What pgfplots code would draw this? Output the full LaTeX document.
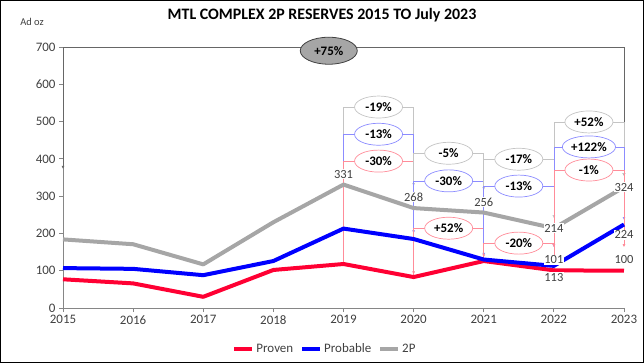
\documentclass[border=0pt]{standalone}
\usepackage{fontspec}
\setmainfont{Carlito}
\usepackage{pgfplots}
\pgfplotsset{compat=1.18}
\usetikzlibrary{shapes.geometric,arrows.meta}
\definecolor{cRed}{HTML}{FF0033}
\definecolor{cBlue}{HTML}{0000FF}
\definecolor{cGray}{HTML}{A6A6A6}
\definecolor{lRed}{HTML}{FF8C99}
\definecolor{lBlue}{HTML}{8C8CFF}
\definecolor{lGray}{HTML}{C4C4C4}
\definecolor{axGray}{HTML}{868686}
\definecolor{txt}{HTML}{404040}
% x1 x2 xmid ybar ystart yend colour label
\newcommand{\brk}[8]{%
  \draw[#7, line width=0.7bp, -{Latex[length=3bp,width=3bp]}] (axis cs:#1,#5) -- (axis cs:#1,#4) -- (axis cs:#2,#4) -- (axis cs:#2,#6);
  \node[ellipse, draw=#7, line width=0.7bp, fill=white, inner xsep=1bp, inner ysep=0.3bp, minimum width=48bp, minimum height=22bp, font=\fontsize{13}{14}\selectfont\bfseries, text=black] at (axis cs:#3,#4) {#8};
}
\newcommand{\vl}[3]{\node[fill=white, inner sep=0.8bp, text=txt, font=\fontsize{12.5}{14}\selectfont] at (axis cs:#1,#2) {#3};}
\begin{document}
\begin{tikzpicture}
\begin{axis}[
  name=a, at={(0,0)}, anchor=south west,
  scale only axis, width=561bp, height=261bp,
  xmin=2015, xmax=2023, ymin=0, ymax=700,
  axis x line*=bottom, axis y line*=left,
  axis line style={axGray, line width=0.8bp},
  xtick={2015,...,2023}, ytick={0,100,...,700},
  tick align=outside, major tick length=4bp,
  tick style={axGray, line width=0.8bp},
  xticklabel style={/pgf/number format/1000 sep={}},
  /pgf/number format/assume math mode=true,
  ticklabel style={font=\fontsize{13}{14}\selectfont, text=txt},
  clip=false,
  legend style={at={(0.467,-0.157)}, anchor=center, draw=none, fill=none, legend columns=3,
    font=\fontsize{13}{14}\selectfont, text=txt, inner sep=0pt,
    /tikz/every even column/.append style={column sep=5bp}},
  legend image code/.code={\draw[#1] (0bp,0bp) -- (18bp,0bp);},
]
% +75% bracket
\draw[black!60, line width=0.8bp, -{Latex[length=3bp,width=3bp]}] (axis cs:2019,700) -- (axis cs:2015,700) -- (axis cs:2015,373);
\draw[black!60, line width=0.8bp, -{Latex[length=3bp,width=3bp]}] (axis cs:2019,700) -- (axis cs:2023,700) -- (axis cs:2023,354);
\node[ellipse, draw=black!75, line width=0.8bp, fill=cGray, minimum width=57bp, minimum height=27bp, inner sep=0.5bp, font=\fontsize{13}{14}\selectfont\bfseries] at (axis cs:2018.79,690) {+75\%};
% 2019-2020
\brk{2019}{2020}{2019.5}{539}{331}{327}{lGray}{-19\%}
\brk{2019}{2020}{2019.5}{466}{213}{200}{lBlue}{-13\%}
\brk{2019}{2020}{2019.5}{394}{118}{90}{lRed}{-30\%}
% 2020-2021
\brk{2020}{2021}{2020.5}{415}{300}{316}{lGray}{-5\%}
\brk{2020}{2021}{2020.5}{341}{185}{140}{lBlue}{-30\%}
\brk{2020}{2021}{2020.5}{214}{83}{136}{lRed}{+52\%}
% 2021-2022
\brk{2021}{2022}{2021.5}{399}{256}{241}{lGray}{-17\%}
\brk{2021}{2022}{2021.5}{327}{130}{163}{lBlue}{-13\%}
\brk{2021}{2022}{2021.5}{174}{126}{163}{lRed}{-20\%}
% 2022-2023
\brk{2022}{2023}{2022.5}{499}{214}{354}{lGray}{+52\%}
\brk{2022}{2023}{2022.5}{432}{113}{236}{lBlue}{+122\%}
\brk{2022}{2023}{2022.5}{370}{101}{163}{lRed}{-1\%}
% series
\addplot[cRed, line width=4bp, line join=round] coordinates {(2015,77) (2016,66) (2017,30) (2018,102) (2019,118) (2020,83) (2021,126) (2022,101) (2023,100)};
\addlegendentry{Proven}
\addplot[cBlue, line width=4bp, line join=round] coordinates {(2015,107) (2016,105) (2017,88) (2018,126) (2019,213) (2020,185) (2021,130) (2022,113) (2023,224)};
\addlegendentry{Probable}
\addplot[cGray, line width=4bp, line join=round] coordinates {(2015,184) (2016,171) (2017,117) (2018,230) (2019,331) (2020,268) (2021,256) (2022,214) (2023,324)};
\addlegendentry{2P}
% value labels
\vl{2019}{359}{331}
\vl{2020}{298}{268}
\vl{2021}{284}{256}
\vl{2022}{214}{214}
\vl{2022}{129}{101}
\vl{2022}{83}{113}
\vl{2023}{324}{324}
\vl{2023}{196}{224}
\vl{2023}{129}{100}
\end{axis}
\node[font=\fontsize{16}{18}\selectfont\bfseries] at (259bp,293bp) {MTL COMPLEX 2P RESERVES 2015 TO July 2023};
\node[font=\fontsize{10.5}{12}\selectfont, text=txt] at (-31bp,286bp) {Ad oz};
\pgfresetboundingbox
\path (-63bp,-55bp) rectangle (581bp,308bp);
\draw[black, line width=1.2bp] (-62.4bp,-54.4bp) rectangle (580.4bp,307.4bp);
\end{tikzpicture}
\end{document}
